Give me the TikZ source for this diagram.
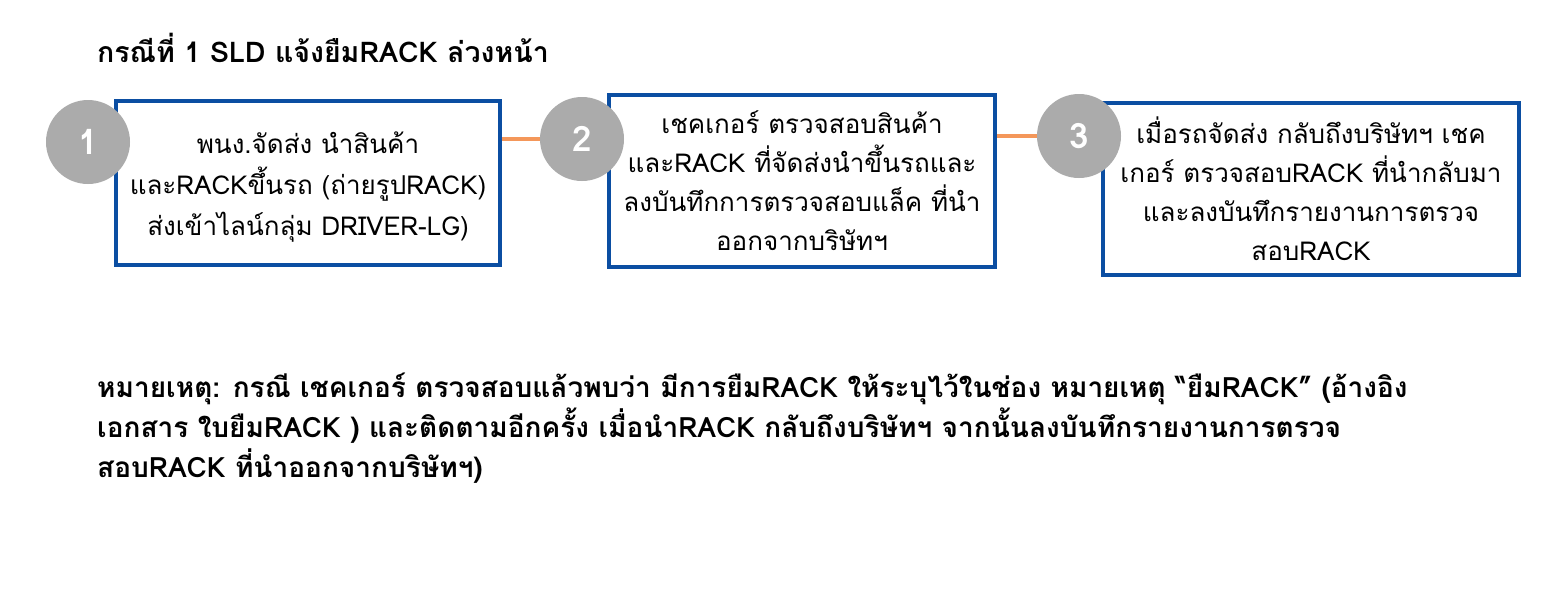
\documentclass[tikz,border=0pt]{standalone}
\usepackage{fontspec}
\setmainfont[Script=Thai]{Loma}
\definecolor{boxblue}{HTML}{0B4EA2}
\definecolor{circgray}{HTML}{ABABAB}
\definecolor{lineorange}{HTML}{F4975A}
\tikzset{
  stepbox/.style={draw=boxblue, line width=4pt, fill=white, align=center, inner sep=0pt,
    font=\fontsize{26}{39}\selectfont},
  numcirc/.style={circle, fill=circgray, minimum size=84pt, inner sep=0pt, text=white,
    font=\fontsize{35}{35}\selectfont\bfseries},
  link/.style={draw=lineorange, line width=4pt},
  heading/.style={anchor=west, inner sep=0pt, font=\fontsize{28.5}{40}\selectfont\bfseries},
  remark/.style={anchor=north west, inner sep=0pt, align=left, font=\fontsize{28}{40}\selectfont\bfseries}
}
\begin{document}
\begin{tikzpicture}[x=1pt,y=-1pt]
\useasboundingbox (0,0) rectangle (1542,608);
\fill[white] (0,0) rectangle (1542,608);
\node[heading] (title) at (97,48) {กรณีที่ 1 SLD แจ้งยืมRACK ล่วงหน้า};
\node[stepbox, minimum width=384pt, minimum height=164pt] (b1) at (308,183) {};
\node[align=center, inner sep=0pt, font=\fontsize{26}{41}\selectfont] (t1) at (308,187)
  {พนง.จัดส่ง นำสินค้า\\และRACKขึ้นรถ (ถ่ายรูปRACK)\\ส่งเข้าไลน์กลุ่ม DRIVER-LG)};
\node[stepbox, minimum width=386pt, minimum height=172pt] (b2) at (802,181)
  {เชคเกอร์ ตรวจสอบสินค้า\\และRACK ที่จัดส่งนำขึ้นรถและ\\ลงบันทึกการตรวจสอบแล็ค ที่นำ\\ออกจากบริษัทฯ};
\node[stepbox, minimum width=416pt, minimum height=172pt] (b3) at (1311,189)
  {เมื่อรถจัดส่ง กลับถึงบริษัทฯ เชค\\เกอร์ ตรวจสอบRACK ที่นำกลับมา\\และลงบันทึกรายงานการตรวจ\\สอบRACK};
\coordinate (c2pos) at (582,139);
\coordinate (c3pos) at (1079,136);
\draw[link] (b1.east |- c2pos) -- (c2pos);
\draw[link] (b2.east |- c3pos) -- (c3pos);
\node[numcirc] (c1) at (88,142) {1};
\node[numcirc] (c2) at (c2pos) {2};
\node[numcirc] (c3) at (c3pos) {3};
\node[remark] (note) at (97,373)
  {หมายเหตุ: กรณี เชคเกอร์ ตรวจสอบแล้วพบว่า มีการยืมRACK ให้ระบุไว้ในช่อง หมายเหตุ “ยืมRACK” (อ้างอิง\\เอกสาร ใบยืมRACK ) และติดตามอีกครั้ง เมื่อนำRACK กลับถึงบริษัทฯ จากนั้นลงบันทึกรายงานการตรวจ\\สอบRACK ที่นำออกจากบริษัทฯ)};
\end{tikzpicture}
\end{document}
